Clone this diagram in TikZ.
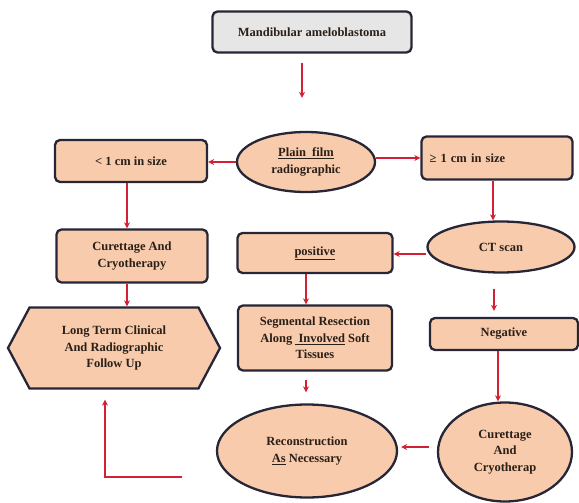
\documentclass[tikz,border=0pt]{standalone}
\usepackage{fontspec}
\setmainfont{Liberation Serif}
\usetikzlibrary{arrows.meta,shapes.geometric,shapes.symbols}
\definecolor{peach}{HTML}{F8CBAD}
\definecolor{topgray}{HTML}{E7E6E6}
\definecolor{edge}{HTML}{262636}
\definecolor{arrred}{HTML}{D42035}
\definecolor{txt}{HTML}{2A2018}
\begin{document}
\begin{tikzpicture}[x=1pt,y=-1pt,
  base/.style={draw=edge,line width=2.3pt,fill=peach,text=txt,font=\fontsize{12.5}{16.5}\selectfont\bfseries,align=center,inner sep=2pt},
  rbox/.style={base,rectangle,rounded corners=5pt},
  oval/.style={base,ellipse,inner sep=0pt},
  arr/.style={draw=arrred,line width=1.8pt,-{Stealth[length=6pt,width=6pt]}}]
\useasboundingbox (0,0) rectangle (579,503);

\node[rbox,fill=topgray,minimum width=199pt,minimum height=41pt] (top) at (312,32) {Mandibular ameloblastoma};
\node[oval,minimum width=138pt,minimum height=60pt] (plain) at (306,162) {\underline{Plain\ \ film}\\radiographic};
\node[rbox,minimum width=152pt,minimum height=42pt] (small) at (131,161) {< 1 cm in size};
\node[rbox,minimum width=151pt,minimum height=43pt,text width=135pt,align=left] (big) at (497,158) {≥ 1 cm in size};
\node[rbox,minimum width=151pt,minimum height=53pt] (cur1) at (132,256) {Curettage And\\Cryotherapy};
\node[rbox,minimum width=155pt,minimum height=40pt] (pos) at (315,253) {\underline{positive}};
\node[oval,minimum width=147pt,minimum height=51pt] (ct) at (501,247) {CT scan};
\node[base,signal,signal to=east and west,signal pointer angle=124,minimum width=212pt,minimum height=81pt,inner sep=0pt] (hex) at (114,348) {Long Term Clinical\\And Radiographic\\Follow Up};
\node[rbox,minimum width=154pt,minimum height=65pt] (seg) at (315,338) {Segmental Resection\\Along \underline{\ Involved} Soft\\Tissues};
\node[rbox,minimum width=148pt,minimum height=32pt] (neg) at (504,334) {Negative};
\node[oval,minimum width=180pt,minimum height=93pt] (recon) at (307,451) {Reconstruction\\\underline{As} Necessary};
\node[oval,minimum width=134pt,minimum height=99pt] (cur2) at (505,452) {Curettage\\And\\Cryotherap};
\coordinate (lstart) at (182,477);

\draw[arr,shorten <=9pt,shorten >=33pt] ([xshift=-10pt]top.south) -- ([xshift=-4pt]plain.north);
\draw[arr] (plain.west) -- (plain.west -| small.east);
\draw[arr] (plain.east |- big.west) -- (big.west);
\draw[arr] ([xshift=-4pt]big.south) -- ([xshift=-4pt]big.south |- ct.north);
\draw[arr] ([yshift=-1pt]pos.east -| ct.west) -- ([yshift=-1pt]pos.east);
\draw[arr] ([xshift=-4pt]small.south) -- ([xshift=-4pt]small.south |- cur1.north);
\draw[arr] ([xshift=-5pt]cur1.south) -- ([xshift=-5pt]cur1.south |- hex.north);
\draw[arr] ([xshift=-9pt]pos.south) -- ([xshift=-9pt]pos.south |- seg.north);
\draw[arr,shorten <=15pt,shorten >=6pt] ([xshift=-7pt]ct.south) -- ([xshift=-7pt]ct.south |- neg.north);
\draw[arr] ([xshift=-6pt]neg.south) -- ([xshift=-6pt]neg.south |- cur2.north);
\draw[arr,shorten <=8pt,shorten >=11pt] ([xshift=-9pt]seg.south) -- ([xshift=-9pt]seg.south |- recon.north);
\draw[arr,shorten <=8pt,shorten >=3pt] ([yshift=5pt]cur2.west) -- ([yshift=5pt]cur2.west -| recon.east);
\draw[arr,shorten >=10pt] (lstart) -| ([xshift=-9pt]hex.south);
\end{tikzpicture}
\end{document}
